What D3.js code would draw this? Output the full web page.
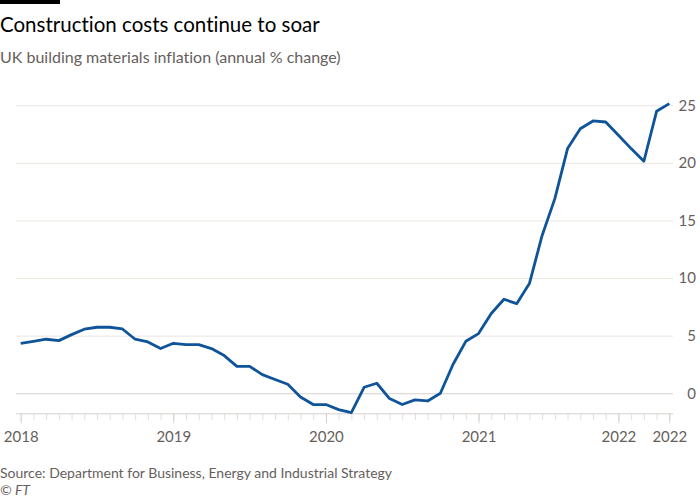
<!DOCTYPE html>
<html>
<head>
<meta charset="utf-8">
<script src="https://cdn.jsdelivr.net/npm/d3@7"></script>
<style>
  body { margin: 0; background: #fff; }
  text { font-family: Lato, "Open Sans", sans-serif; font-variant-ligatures: none; }
</style>
</head>
<body>
<script>
var w = 700;
var h = 500;

// monthly values, Jan 2018 - Apr 2022 (annual % change)
var values = [4.34, 4.51, 4.69, 4.57, 5.09, 5.56, 5.73, 5.73, 5.58, 4.69, 4.46, 3.88,
              4.34, 4.22, 4.22, 3.88, 3.27, 2.34, 2.34, 1.62, 1.19, 0.78, -0.32, -0.98,
              -0.98, -1.42, -1.68, 0.52, 0.87, -0.46, -0.98, -0.58, -0.67, 0.0, 2.52, 4.51,
              5.18, 6.92, 8.16, 7.78, 9.52, 13.7, 16.9, 21.24, 22.97, 23.64, 23.55, 22.4,
              21.24, 20.14, 24.48, 25.15];
var xTickIdx = [0, 12, 24, 36, 47, 51];
var xTickLabels = ["2018", "2019", "2020", "2021", "2022", "2022"];
var yTicks = [0, 5, 10, 15, 20, 25];

var plotLeft = 20.7, plotRight = 669.3, plotTop = 105.3, plotBottom = 413.3;

var svg = d3.select("body")
  .append("svg")
  .attr("width", w)
  .attr("height", h);

var xScale = d3.scaleLinear()
  .domain([0, values.length - 1])
  .range([plotLeft, plotRight]);

var yScale = d3.scaleLinear()
  .domain([-1.74, 25])
  .range([plotBottom, plotTop]);

// black bar top left
svg.append("rect")
  .attr("x", 0).attr("y", 0)
  .attr("width", 60).attr("height", 4)
  .attr("fill", "#000");

svg.append("text")
  .attr("x", 0).attr("y", 32)
  .attr("font-size", 20.5)
  .attr("fill", "#000")
  .text("Construction costs continue to soar");

svg.append("text")
  .attr("x", 0).attr("y", 63)
  .attr("font-size", 16)
  .attr("fill", "#66605c")
  .text("UK building materials inflation (annual % change)");

// y axis with gridlines
var yAxis = d3.axisRight(yScale)
  .tickValues(yTicks)
  .tickSize(-(673 - 16));

var yg = svg.append("g")
  .attr("transform", "translate(673,0)")
  .call(yAxis);
yg.select(".domain").remove();
yg.selectAll("line")
  .attr("stroke", function(d) { return d === 0 ? "#d6d1cc" : "#ebe6e1"; });
yg.selectAll("text")
  .attr("x", 23)
  .attr("text-anchor", "end")
  .attr("font-size", 15)
  .attr("fill", "#66605c")
  .attr("font-family", "Lato, sans-serif");

// x axis: monthly minor ticks
var xMinor = d3.axisBottom(xScale)
  .tickValues(d3.range(values.length))
  .tickSize(7)
  .tickFormat("");

var xg = svg.append("g")
  .attr("transform", "translate(0," + plotBottom + ")")
  .call(xMinor);
xg.select(".domain")
  .attr("d", "M16,0.5H673")
  .attr("stroke", "#d6d1cc");
xg.selectAll("line").attr("stroke", "#e3ded9");

// x axis: labelled ticks
var xMajor = d3.axisBottom(xScale)
  .tickValues(xTickIdx)
  .tickSize(10)
  .tickPadding(8)
  .tickFormat(function(d, i) { return xTickLabels[i]; });

var xg2 = svg.append("g")
  .attr("transform", "translate(0," + plotBottom + ")")
  .call(xMajor);
xg2.select(".domain").remove();
xg2.selectAll("line").attr("stroke", "#d6d1cc");
xg2.selectAll("text")
  .attr("font-size", 15)
  .attr("fill", "#66605c")
  .attr("font-family", "Lato, sans-serif");

// line
var line = d3.line()
  .x(function(d, i) { return xScale(i); })
  .y(function(d) { return yScale(d); });

svg.append("path")
  .datum(values)
  .attr("d", line)
  .attr("fill", "none")
  .attr("stroke", "#0f5499")
  .attr("stroke-width", 2.8)
  .attr("stroke-linejoin", "round");

svg.append("text")
  .attr("x", 0).attr("y", 478)
  .attr("font-size", 14)
  .attr("fill", "#66605c")
  .text("Source: Department for Business, Energy and Industrial Strategy");

svg.append("text")
  .attr("x", 0).attr("y", 495)
  .attr("font-size", 14)
  .attr("font-style", "italic")
  .attr("fill", "#66605c")
  .text("\u00a9 FT");
</script>
</body>
</html>
